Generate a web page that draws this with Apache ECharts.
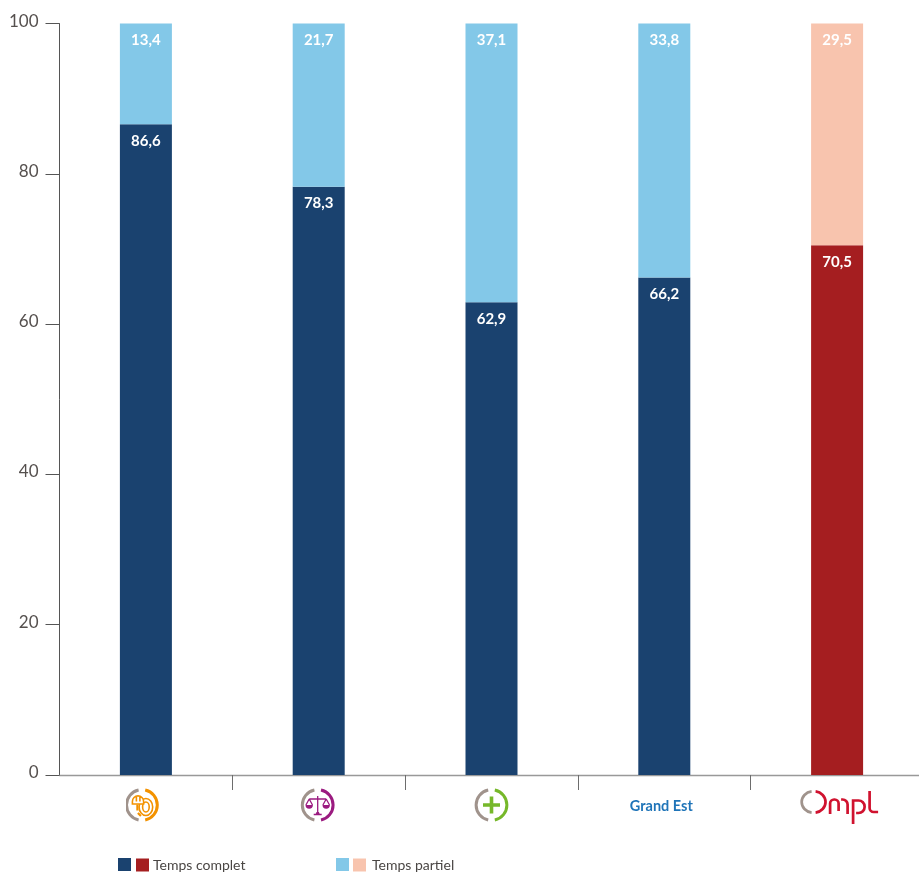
<!DOCTYPE html>
<html>
<head>
<meta charset="utf-8">
<style>html,body{margin:0;padding:0;background:#fff}#c{width:919px;height:872px}</style>
<script src="https://cdn.jsdelivr.net/npm/echarts@6/dist/echarts.min.js"></script>
</head>
<body>
<div id="c"></div>
<script>
const categories = ['Technique', 'Juridique', 'Santé', 'Grand Est', 'OMPL'];
const tempsComplet = [86.6, 78.3, 62.9, 66.2, 70.5];
const tempsPartiel = [13.4, 21.7, 37.1, 33.8, 29.5];
const yTicks = [0, 20, 40, 60, 80, 100];

const NAVY = '#1a426f', RED = '#a51e20', SKY = '#83c8e8', SALMON = '#f8c4ae';
const GREY = '#a0938c';

function ring(color, inner, shift) {
  return `<svg xmlns="http://www.w3.org/2000/svg" width="40" height="36" viewBox="0 0 40 36">
  <g transform="translate(${shift} 0)"><g fill="none" stroke-width="3">
  <path d="M13.7 2.96A15.4 15.4 0 0 0 13.7 33.04" stroke="${GREY}"/>
  <path d="M20.3 2.96A15.4 15.4 0 0 1 20.3 33.04" stroke="${color}"/>
  </g>${inner}</g></svg>`;
}
const iconSvg = {
  Technique: ring('#f39200', `<g fill="#fff" stroke="#f39200" stroke-width="1.6">
    <path d="M16 12L13 15M12.5 17.5v6M13 26L16 29" fill="none" stroke-width="2.2"/>
    <ellipse cx="21" cy="20" rx="6.8" ry="8.5"/><ellipse cx="21" cy="20" rx="3.3" ry="5"/>
    <path d="M7.5 14.5a5.6 5.6 0 0 1 11.2 0v2.5H7.5zM11.5 9v5.5M15 9v5.5"/></g>`, -1),
  Juridique: ring('#9b1b80', `<g fill="none" stroke="#9b1b80" stroke-width="1.3">
    <path d="M17 9v17.5M13 27.5h8M8.5 12h17M8.5 12l-3.3 6M8.5 12l3.3 6M25.5 12l-3.3 6M25.5 12l3.3 6" /></g>
    <path d="M4.8 18h7.4a3.7 3.7 0 0 1-7.4 0zM21.8 18h7.4a3.7 3.7 0 0 1-7.4 0z" fill="#9b1b80"/>
    <path d="M15.8 25h2.4l1 2.5h-4.4z" fill="#9b1b80"/>`, 2),
  'Santé': ring('#76b82a', `<path d="M17 9.5v17M8.5 18h17" fill="none" stroke="#76b82a" stroke-width="3.6"/>`, 3),
  OMPL: `<svg xmlns="http://www.w3.org/2000/svg" width="84" height="40" viewBox="0 0 84 40">
  <g fill="none" stroke-width="2.7" transform="translate(3 0)">
  <path d="M13.5 4.4A11.5 10.7 0 0 0 13.5 25.6" stroke="${GREY}"/>
  <path d="M17.5 4.4A11.5 10.7 0 0 1 17.5 25.6" stroke="#d0122f"/>
  <g stroke="#d0122f">
  <path d="M32 27V16.5a4 4 0 0 1 4-4h.5a4 4 0 0 1 4 4V24M43 12.5h1.5a5 5 0 0 1 5 5V27"/>
  <path d="M55 37V13.5h5.5a6 6 0 0 1 6 6v.5a6 6 0 0 1-6 6H58"/>
  <path d="M71.5 4v17a4 4 0 0 0 4 4H80"/>
  </g></g></svg>`
};
const uri = s => 'data:image/svg+xml;charset=utf-8,' + encodeURIComponent(s);
const iconKey = {Technique: 'tech', Juridique: 'jur', 'Santé': 'sante', OMPL: 'ompl'};

const valueLabel = {
  show: true, position: 'insideTop', distance: 9.5, color: '#fff',
  fontFamily: 'Lato', fontSize: 15, fontWeight: 700,
  formatter: p => p.value.toFixed(1).replace('.', ',')
};
const chart = echarts.init(document.getElementById('c'), null, {renderer: 'canvas'});
const last = categories.length - 1;
chart.setOption({
  animation: false,
  backgroundColor: '#fff',
  grid: {left: 59.5, width: 864, top: 23.6, height: 751.4, containLabel: false, outerBoundsMode: 'none'},
  xAxis: [{
    type: 'category', data: categories,
    axisLine: {lineStyle: {color: '#999', width: 1.4}},
    axisTick: {show: false},
    axisLabel: {
      margin: 12, interval: 0,
      formatter: v => iconKey[v] ? `{${iconKey[v]}|}` : `{txt|${v}}`,
      rich: {
        tech: {width: 40, height: 36, backgroundColor: {image: uri(iconSvg.Technique)}},
        jur: {width: 40, height: 36, backgroundColor: {image: uri(iconSvg.Juridique)}},
        sante: {width: 40, height: 36, backgroundColor: {image: uri(iconSvg['Santé'])}},
        ompl: {width: 84, height: 40, backgroundColor: {image: uri(iconSvg.OMPL)}},
        txt: {color: '#1f74b8', fontFamily: 'Lato', fontWeight: 700, fontSize: 14.5, height: 36, lineHeight: 38, padding: [0, 6, 0, 0]}
      }
    }
  }, {
    type: 'value', min: 0, max: categories.length, position: 'bottom',
    axisLine: {show: false}, splitLine: {show: false}, axisLabel: {show: false},
    axisTick: {show: true, length: 15, lineStyle: {color: '#6d6d6d', width: 1}, customValues: [1, 2, 3, 4]}
  }],
  yAxis: {
    type: 'value', min: 0, max: 100, interval: 20,
    axisLine: {show: true, lineStyle: {color: '#555', width: 1}},
    axisTick: {show: true, length: 14, lineStyle: {color: '#555', width: 1}},
    splitLine: {show: false},
    axisLabel: {
      margin: 21, color: '#55504e', fontFamily: 'Lato', fontWeight: 400, fontSize: 17,
      verticalAlign: 'bottom', lineHeight: 5,
      customValues: yTicks
    }
  },
  legend: [
    {data: [{name: 'Temps complet', itemStyle: {color: RED}}], left: 136, top: 858, padding: 0, itemWidth: 13, itemHeight: 13,
     icon: 'rect', selectedMode: false, textStyle: {color: '#4a4644', fontFamily: 'Lato', fontSize: 14, padding: [0, 0, 0, -1]}},
    {data: [{name: 'Temps partiel', itemStyle: {color: SALMON}}], left: 353, top: 858, padding: 0, itemWidth: 13, itemHeight: 13,
     icon: 'rect', selectedMode: false, textStyle: {color: '#4a4644', fontFamily: 'Lato', fontSize: 14, padding: [0, 0, 0, 1]}}
  ],
  graphic: [
    {type: 'rect', left: 118, top: 858, shape: {width: 13, height: 13}, style: {fill: NAVY}},
    {type: 'rect', left: 336, top: 858, shape: {width: 13, height: 13}, style: {fill: SKY}}
  ],
  series: [
    {name: 'Temps complet', type: 'bar', stack: 't', barWidth: 52, label: valueLabel,
     data: tempsComplet.map((v, i) => ({value: v, itemStyle: {color: i === last ? RED : NAVY}}))},
    {name: 'Temps partiel', type: 'bar', stack: 't', barWidth: 52, label: valueLabel,
     data: tempsPartiel.map((v, i) => ({value: v, itemStyle: {color: i === last ? SALMON : SKY}}))}
  ]
});
</script>
</body>
</html>
